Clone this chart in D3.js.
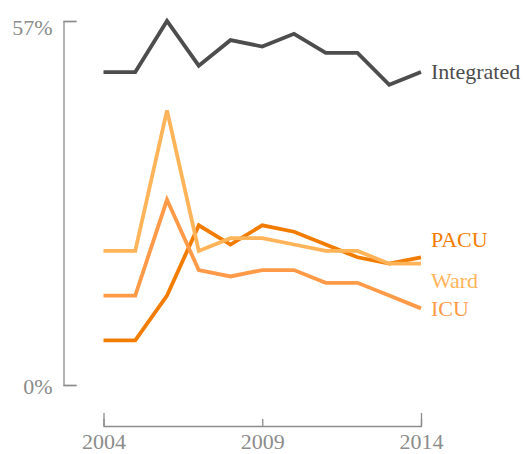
<!DOCTYPE html>
<html>
<head>
<meta charset="utf-8">
<script src="https://cdn.jsdelivr.net/npm/d3@7"></script>
<style>
  body { margin: 0; background: #fff; }
  svg { display: block; }
  text { font-family: "Liberation Serif", "DejaVu Serif", serif; }
  .axis path, .axis line { stroke: #8c8c8c; stroke-width: 1.3; fill: none; }
  .axis text { fill: #8c8c8c; font-size: 22px; }
</style>
</head>
<body>
<script>
var years = [2004, 2005, 2006, 2007, 2008, 2009, 2010, 2011, 2012, 2013, 2014];
var seriesNames = ["Integrated", "PACU", "Ward", "ICU"];
var integrated = [49, 49, 57, 50, 54, 53, 55, 52, 52, 47, 49];
var pacu = [7, 7, 14, 25, 22, 25, 24, 22, 20, 19, 20];
var ward = [21, 21, 43, 21, 23, 23, 22, 21, 21, 19, 19];
var icu = [14, 14, 29, 18, 17, 18, 18, 16, 16, 14, 12];
var yTicks = [0, 57];
var xTicks = [2004, 2009, 2014];

var colors = {Integrated: "#4d4d4d", PACU: "#f17c00", Ward: "#ffb459", ICU: "#ff9a48"};
// labels nudged to keep them apart at the right end
var labelNudge = {Integrated: 0, PACU: -17, Ward: 17, ICU: 1};

var series = [integrated, pacu, ward, icu].map(function(vals, i) {
	return {name: seriesNames[i], values: vals.map(function(v, j) { return {year: years[j], value: v}; })};
});

var width = 523, height = 454;

var x = d3.scaleLinear().domain([2004, 2014]).range([103.5, 421]);
var y = d3.scaleLinear().domain([0, 57]).range([385, 21]);

var svg = d3.select("body").append("svg")
	.attr("width", width)
	.attr("height", height);

// AXES (range frame style)
var yAxis = svg.append("g")
	.attr("class", "axis")
	.attr("transform", "translate(63.5,0)")
	.call(d3.axisLeft(y).tickValues(yTicks).tickSizeInner(-13).tickSizeOuter(-13).tickPadding(11)
		.tickFormat(function(d) { return d + "%"; }));
yAxis.selectAll("text").attr("dy", "0.4em");
yAxis.selectAll(".tick").filter(function(d) { return d === 57; }).select("text").attr("dy", "0.62em");

var xAxis = svg.append("g")
	.attr("class", "axis")
	.attr("transform", "translate(0,426)")
	.call(d3.axisBottom(x).tickValues(xTicks).tickSizeInner(-7).tickSizeOuter(-13).tickPadding(7)
		.tickFormat(d3.format("d")));

// LINES
var line = d3.line()
	.x(function(d) { return x(d.year); })
	.y(function(d) { return y(d.value); });

svg.selectAll(".series")
	.data(series)
	.enter().append("path")
	.attr("class", "series")
	.attr("d", function(d) { return line(d.values); })
	.attr("fill", "none")
	.attr("stroke", function(d) { return colors[d.name]; })
	.attr("stroke-width", 3.8);

// END LABELS
svg.selectAll(".label")
	.data(series)
	.enter().append("text")
	.attr("class", "label")
	.attr("x", function(d) { return x(d.values[d.values.length - 1].year) + 10; })
	.attr("y", function(d) { return y(d.values[d.values.length - 1].value) + labelNudge[d.name]; })
	.attr("dy", "0.32em")
	.style("font-size", "22px")
	.attr("fill", function(d) { return colors[d.name]; })
	.text(function(d) { return d.name; });
</script>
</body>
</html>
